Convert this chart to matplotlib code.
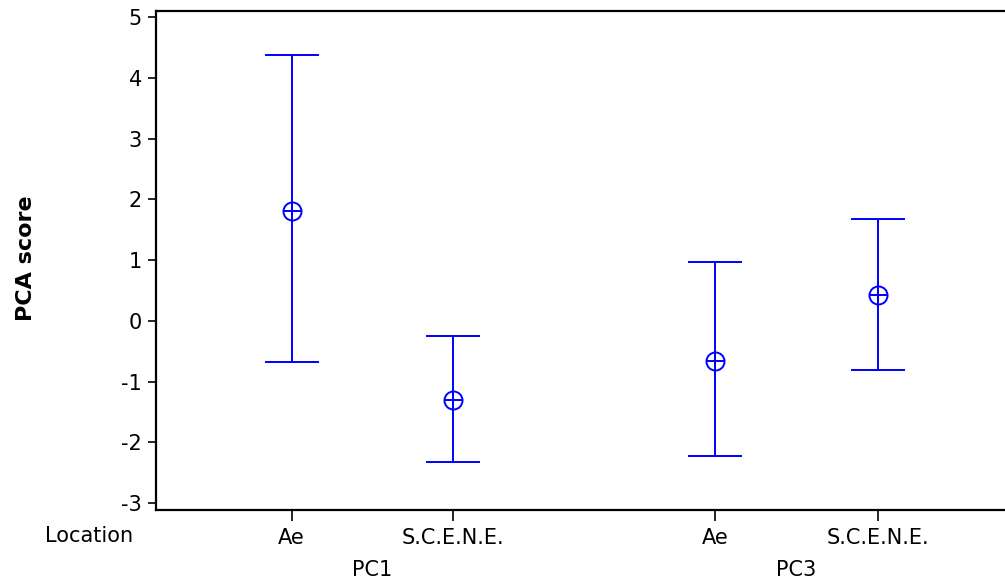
import matplotlib
matplotlib.use("Agg")
import matplotlib.pyplot as plt
from matplotlib.transforms import blended_transform_factory

plt.rcParams['font.family'] = ['DejaVu Sans']

locations = ["Ae", "S.C.E.N.E.", "Ae", "S.C.E.N.E."]
components = ["PC1", "PC3"]
means = [1.81, -1.30, -0.66, 0.42]
upper = [4.37, -0.25, 0.96, 1.68]
lower = [-0.68, -2.33, -2.23, -0.81]
yticks = [-3, -2, -1, 0, 1, 2, 3, 4, 5]

xpos = [0, 1, 2.62, 3.628]

fig = plt.figure(figsize=(10.05, 5.84), dpi=100)
ax = fig.add_axes([156/1005, 1-510/584, (1005-156)/1005, (510-11)/584])

yerr = [[m - l for m, l in zip(means, lower)], [u - m for m, u in zip(means, upper)]]
ax.errorbar(xpos, means, yerr=yerr, fmt='none', ecolor='#0000FF', elinewidth=1.4,
            capsize=19.5, capthick=1.4)
ax.plot(xpos, means, linestyle='none', marker='o', markersize=13, markerfacecolor='none',
        markeredgecolor='#0000FF', markeredgewidth=1.4)
ax.plot(xpos, means, linestyle='none', marker='+', markersize=13,
        markeredgecolor='#0000FF', markeredgewidth=1.4)

ax.set_xlim(-0.84, -0.84 + 849/161.5)
ax.set_ylim(-3.115, 5.1)
ax.set_yticks(yticks)
ax.set_yticklabels([str(t) for t in yticks])
ax.set_xticks(xpos)
ax.set_xticklabels(locations)

for s in ['left', 'bottom', 'top']:
    ax.spines[s].set_linewidth(1.6)
ax.spines['right'].set_visible(False)
ax.tick_params(axis='both', direction='out', length=6, width=1.2, labelsize=15, pad=4)
ax.tick_params(axis='x', length=8, pad=5)

ax.set_ylabel("PCA score", fontsize=16, fontweight='bold')
ax.yaxis.set_label_coords((36-156)/849, 0.505)

fig.text(45/1005, 1-536/584, "Location", fontsize=15, ha='left', va='center')

ctr = [(xpos[0] + xpos[1]) / 2, (xpos[2] + xpos[3]) / 2]
tr2 = blended_transform_factory(ax.transData, fig.transFigure)
for c, name in zip(ctr, components):
    ax.text(c, 1-570/584, name, fontsize=15, ha='center', va='center', transform=tr2)

fig.savefig("out.png", dpi=100)
